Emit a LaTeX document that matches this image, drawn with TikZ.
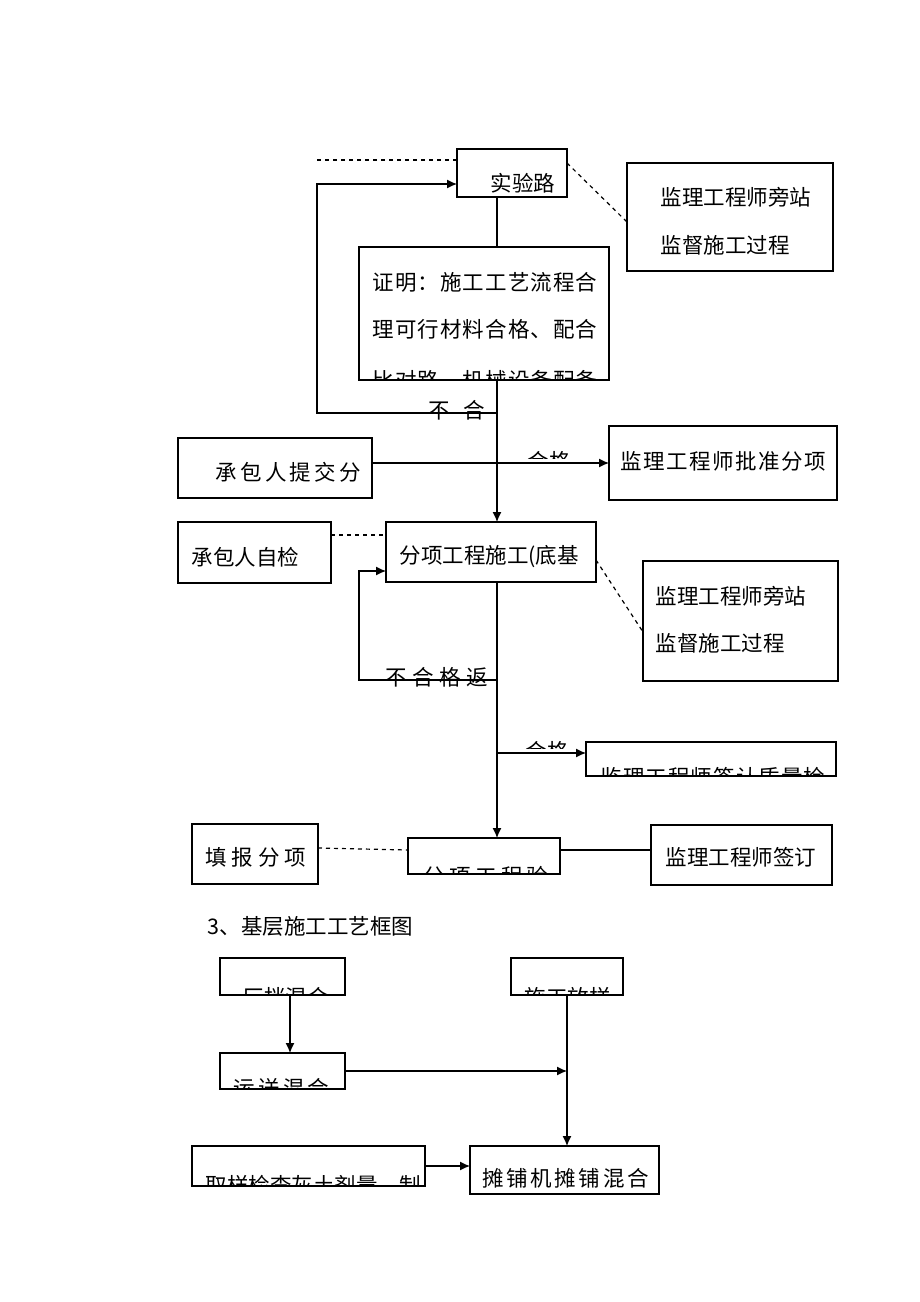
\documentclass[tikz,border=0pt]{standalone}
\usepackage{fontspec}
\setmainfont{Noto Sans CJK SC}
\usetikzlibrary{arrows.meta,positioning}

\begin{document}
\begin{tikzpicture}[x=0.5pt,y=-0.5pt,line width=0.6pt,
	  font=\fontsize{10.75}{13}\selectfont,
	  box/.style={draw,inner sep=0pt,outer sep=0pt},
	  txt/.style={inner sep=0pt,anchor=west},
	  wide/.style={txt,font=\fontsize{10.75}{13}\selectfont\addfontfeature{LetterSpace=#1}},
	  dashline/.style={dash pattern=on 2pt off 2pt},
	  arr/.style={-{Latex[length=5pt,width=4.5pt]}},
	  ]
	  \useasboundingbox (0,0) rectangle (920,1302);
	  % upper flow
	  \node[box,minimum width=55pt,minimum height=24pt] (syl) at (512,173) {};
	  \node[txt] (syl-t) at (490,183) {实验路};
	  \node[box,minimum width=103pt,minimum height=54pt] (jl1) at (730,217) {};
	  \node[txt] (jl1-a) at (660,197) {监理工程师旁站};
	  \node[txt] (jl1-b) at (660,245) {监督施工过程};
	  \node[box,minimum width=125pt,minimum height=66.5pt] (zm) at (484,313.5) {};
	  \node[wide=5] (zm-a) at (372,282) {证明：施工工艺流程合};
	  \node[wide=5] (zm-b) at (372,329) {理可行材料合格、配合};
	  \begin{scope}
	    \clip (zm.north west) rectangle (zm.south east);
	    \node[wide=5] (zm-c) at (372,380) {比对路、机械设备配备};
	  \end{scope}
	  \node[box,minimum width=97pt,minimum height=30pt] (cbr) at (275,468) {};
	  \node[wide=15] (cbr-t) at (215,472) {承包人提交分};
	  \node[box,minimum width=114pt,minimum height=37pt] (pz) at (723,463) {};
	  \node[wide=7] (pz-t) at (620,461) {监理工程师批准分项};
	  \node[box,minimum width=76.5pt,minimum height=30.5pt] (zj) at (254.5,552.5) {};
	  \node[txt] (zj-t) at (191,557) {承包人自检};
	  \node[box,minimum width=105pt,minimum height=30pt] (fx) at (491,552) {};
	  \node[txt] (fx-t) at (399,557) {分项工程施工(底基};
	  \node[box,minimum width=97.5pt,minimum height=60pt] (jl2) at (740.5,621) {};
	  \node[txt] (jl2-a) at (655,596) {监理工程师旁站};
	  \node[txt] (jl2-b) at (655,643) {监督施工过程};
	  \node[box,minimum width=125pt,minimum height=17pt] (qr) at (711,759) {};
	  \begin{scope}
	    \clip (qr.north west) rectangle (qr.south east);
	    \node[wide=5] (qr-t) at (600,777) {监理工程师签认质量检};
	  \end{scope}
	  \node[box,minimum width=63pt,minimum height=30pt] (tb) at (255,854) {};
	  \node[wide=22] (tb-t) at (205,857) {填报分项};
	  \node[box,minimum width=76pt,minimum height=18pt] (ys) at (484,856) {};
	  \begin{scope}
	    \clip (ys.north west) rectangle (ys.south east);
	    \node[wide=20] (ys-t) at (423,876) {分项工程验};
	  \end{scope}
	  \node[box,minimum width=90.5pt,minimum height=30pt] (qd) at (741.5,855) {};
	  \node[txt] (qd-t) at (665,857) {监理工程师签订};
	  % labels
	  \node[txt] (bh1) at (428,410) {不\hspace{6.5pt}合};
	  \begin{scope}
	    \clip (515,440) rectangle (575,458);
	    \node[txt] (hg1) at (527,461) {合格};
	  \end{scope}
	  \node[wide=25] (bh2) at (385,677) {不合格返};
	  \begin{scope}
	    \clip (515,730) rectangle (575,748);
	    \node[txt] (hg2) at (525,751) {合格};
	  \end{scope}
	  % connectors
	  \coordinate (d0) at (317,160);
	  \coordinate (k1) at (497,413);
	  \coordinate (k0) at (317,413);
	  \coordinate (r1) at (317,184);
	  \draw[dashline] (d0) -- (d0 -| syl.west);
	  \draw[dashline] ([yshift=-7pt]syl.north east) -- ([yshift=-2.5pt]jl1.west);
	  \draw (syl.south -| k1) -- (zm.north -| k1);
	  \draw[arr] (zm.south -| k1) -- (fx.north -| k1);
	  \draw[arr] (k1) -- (k0) -- (r1) -- (r1 -| syl.west);
	  \draw[arr] (cbr.east |- pz.west) -- (pz.west);
	  \coordinate (d1) at (331,535);
	  \draw[dashline] (d1) -- (d1 -| fx.west);
	  \draw[dashline] ([yshift=-4pt]fx.east) -- ([yshift=-5.5pt]jl2.west);
	  \coordinate (k2) at (497,680);
	  \coordinate (k3) at (359,680);
	  \coordinate (r2) at (359,571);
	  \draw[arr] (fx.south -| k1) -- (ys.north -| k1);
	  \draw[arr] (k2) -- (k3) -- (r2) -- (r2 -| fx.west);
	  \coordinate (k4) at (497,753);
	  \draw[arr] (k4) -- (k4 -| qr.west);
	  \draw[dashline] ([yshift=3pt]tb.east) -- ([yshift=3pt]ys.west);
	  \draw ([yshift=3pt]ys.east) -- ([yshift=2.5pt]qd.west);
	  % base course
	  \node[txt] (title) at (207,926) {3、基层施工工艺框图};
	  \node[box,minimum width=62.5pt,minimum height=18.5pt] (cb) at (282.5,976.5) {};
	  \node[box,minimum width=56pt,minimum height=18.5pt] (fy) at (567,976.5) {};
	  \node[box,minimum width=62.5pt,minimum height=18pt] (ys2) at (282.5,1071) {};
	  \node[box,minimum width=116.5pt,minimum height=20pt] (qy) at (308.5,1166) {};
	  \node[box,minimum width=94.5pt,minimum height=24pt] (tp) at (564.5,1170) {};
	  \node[wide=12] (tp-t) at (482,1178) {摊铺机摊铺混合};
	  \begin{scope}
	    \clip (cb.north west) rectangle (cb.south east);
	    \node[txt] (cb-t) at (242,997) {厂拌混合};
	  \end{scope}
	  \begin{scope}
	    \clip (fy.north west) rectangle (fy.south east);
	    \node[txt] (fy-t) at (524,997) {施工放样};
	  \end{scope}
	  \begin{scope}
	    \clip (ys2.north west) rectangle (ys2.south east);
	    \node[wide=15] (ys2-t) at (233,1088) {运送混合};
	  \end{scope}
	  \begin{scope}
	    \clip (qy.north west) rectangle (qy.south east);
	    \node[txt] (qy-t) at (205,1185) {取样检查灰土剂量、制};
	  \end{scope}
	  \coordinate (k5) at (290,995);
	  \coordinate (k6) at (567,1071);
	  \draw[arr] (k5) -- (k5 |- ys2.north);
	  \draw[arr] (ys2.east |- k6) -- (k6);
	  \draw[arr] (fy.south) -- (fy.south |- tp.north);
	  \draw[arr] (qy.east) -- (qy.east -| tp.west);
	\end{tikzpicture}
\end{document}
